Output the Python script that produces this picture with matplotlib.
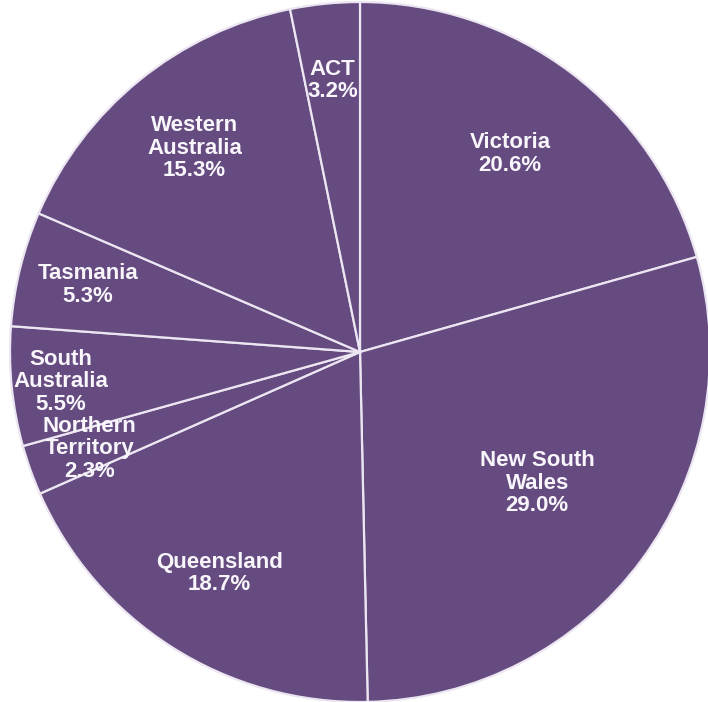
import numpy as np
import matplotlib.pyplot as plt

# share of total by state/territory, clockwise from 12 o'clock
regions = ["Victoria", "New South\nWales", "Queensland", "Northern\nTerritory",
           "South\nAustralia", "Tasmania", "Western\nAustralia", "ACT"]
shares = [20.6, 29.0, 18.7, 2.3, 5.5, 5.3, 15.3, 3.2]
label_dist = [0.71, 0.63, 0.75, 0.82, 0.86, 0.80, 0.75, 0.78]

plt.rcParams['font.family'] = ['Liberation Sans', 'DejaVu Sans']

fig = plt.figure(figsize=(7.08, 7.02), dpi=100)
fig.patch.set_facecolor('white')
ax = fig.add_axes([0, 0, 1, 1])

wedges, _ = ax.pie(
    shares,
    startangle=90,
    counterclock=False,
    colors=['#654b80'] * len(shares),
    wedgeprops=dict(edgecolor='#ece6f2', linewidth=1.6),
    radius=1.0,
)

for w, name, val, d in zip(wedges, regions, shares, label_dist):
    ang = np.deg2rad((w.theta1 + w.theta2) / 2)
    ax.text(d * np.cos(ang), d * np.sin(ang), f"{name}\n{val:.1f}%",
            ha='center', va='center', color='#f8f6fb', fontsize=16,
            fontweight='bold', linespacing=1.1)

# place the pie: centre ~ (360, 352) px, radius ~350 px
r = 350.0
ax.set_xlim(-360 / r, (708 - 360) / r)
ax.set_ylim(-(702 - 352) / r, 352 / r)
ax.set_aspect('auto')
ax.axis('off')

fig.savefig("out.png", dpi=100)
